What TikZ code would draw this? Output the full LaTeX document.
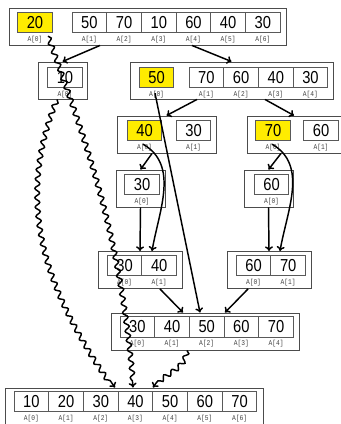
\documentclass[tikz,border=0pt]{standalone}
\usepackage{fontspec}
\setmainfont{Liberation Sans}
\newfontfamily\cellfont{Liberation Sans}[FakeStretch=0.85]
\newfontfamily\idxfont{Liberation Mono}[FakeStretch=0.85]
\usetikzlibrary{calc}
\usetikzlibrary{arrows.meta}
\usetikzlibrary{decorations.pathmorphing}
\definecolor{pivotyellow}{RGB}{255,236,0}

\begin{document}
\begin{tikzpicture}[x=0.75pt, y=0.75pt, thick]
		\tikzstyle{cell}=[draw=black!65, line width=0.6pt, minimum width=26pt, minimum height=15.4pt, inner sep=0pt, font=\cellfont\fontsize{13}{14}\selectfont]
		\tikzstyle{pivot}=[cell, fill=pivotyellow]
		\tikzstyle{part}=[draw=black!70, line width=0.7pt, minimum height=27.75pt, inner sep=0pt]
		\tikzstyle{idx}=[font=\idxfont\fontsize{5.5}{6}\selectfont, text=black!75, inner sep=0.5pt]
		\tikzstyle{arr}=[-{To[length=3.5pt, width=6pt]}, black, line width=1.1pt]
		\tikzstyle{snk}=[arr, decorate, decoration={snake, amplitude=1.8pt, segment length=7pt, post length=4pt}]
		\tikzset{every label/.style={idx}, label distance=1.2pt}

		\useasboundingbox (0,0) rectangle (340,-424);

    % Partition boxes
		\node[part, minimum width=207.75pt](box0) at (147.5,-26.5){};
		\node[part, minimum width=36.75pt](box1) at (62.5,-80.5){};
		\node[part, minimum width=152.25pt](box2) at (231.5,-80.5){};
		\node[part, minimum width=74.25pt](box3) at (166.5,-134.5){};
		\node[part, minimum width=75pt](box4) at (297,-134.5){};
		\node[part, minimum width=36.75pt](box5) at (140.5,-188.5){};
		\node[part, minimum width=36.75pt](box6) at (268.5,-188.5){};
		\node[part, minimum width=63pt](box7) at (140,-270){};
		\node[part, minimum width=63pt](box8) at (269,-270){};
		\node[part, minimum width=141pt](box9) at (205,-331.5){};
		\node[part, minimum width=193.5pt](box10) at (134,-406.5){};

    % Input array
		\node[pivot, label=below:{A[0]}](a0) at (35,-22.5){20};
		\node[cell, label=below:{A[1]}](a1) at (89.35,-22.5){50};
		\node[cell, label=below:{A[2]}](a2) at (124.05,-22.5){70};
		\node[cell, label=below:{A[3]}](a3) at (158.75,-22.5){10};
		\node[cell, label=below:{A[4]}](a4) at (193.45,-22.5){60};
		\node[cell, label=below:{A[5]}](a5) at (228.15,-22.5){40};
		\node[cell, label=below:{A[6]}](a6) at (262.85,-22.5){30};

    % 1st split
		\node[cell, label=below:{A[0]}](b0) at (65,-77.5){10};
		\node[pivot, label=below:{A[0]}](c0) at (156.5,-77.5){50};
		\node[cell, label=below:{A[1]}](c1) at (206.35,-77.5){70};
		\node[cell, label=below:{A[2]}](c2) at (241.05,-77.5){60};
		\node[cell, label=below:{A[3]}](c3) at (275.75,-77.5){40};
		\node[cell, label=below:{A[4]}](c4) at (310.45,-77.5){30};

    % 2nd split
		\node[pivot, label=below:{A[0]}](d0) at (144.5,-130.5){40};
		\node[cell, label=below:{A[1]}](d1) at (193.5,-130.5){30};
		\node[pivot, label=below:{A[0]}](e0) at (273,-130.5){70};
		\node[cell, label=below:{A[1]}](e1) at (321,-130.5){60};

    % Single cells
		\node[cell, label=below:{A[0]}](f0) at (142,-184.5){30};
		\node[cell, label=below:{A[0]}](g0) at (271.5,-184.5){60};

    % Merged pairs
		\node[cell, label=below:{A[0]}](h0) at (124.5,-265.5){30};
		\node[cell, label=below:{A[1]}](h1) at (159.2,-265.5){40};
		\node[cell, label=below:{A[0]}](k0) at (253.5,-265.5){60};
		\node[cell, label=below:{A[1]}](k1) at (288.2,-265.5){70};

    % Merged right part
		\node[cell, label=below:{A[0]}](m0) at (137.3,-327){30};
		\node[cell, label=below:{A[1]}](m1) at (172,-327){40};
		\node[cell, label=below:{A[2]}](m2) at (206.7,-327){50};
		\node[cell, label=below:{A[3]}](m3) at (241.4,-327){60};
		\node[cell, label=below:{A[4]}](m4) at (276.1,-327){70};

    % Sorted array
		\node[cell, label=below:{A[0]}](s0) at (31.35,-401.5){10};
		\node[cell, label=below:{A[1]}](s1) at (66.05,-401.5){20};
		\node[cell, label=below:{A[2]}](s2) at (100.75,-401.5){30};
		\node[cell, label=below:{A[3]}](s3) at (135.45,-401.5){40};
		\node[cell, label=below:{A[4]}](s4) at (170.15,-401.5){50};
		\node[cell, label=below:{A[5]}](s5) at (204.85,-401.5){60};
		\node[cell, label=below:{A[6]}](s6) at (239.55,-401.5){70};

		\draw[arr] ($(box0.south)+(-47.5,0)$) -- (box1.north);
		\draw[arr] ($(box0.south)+(44.5,0)$) -- (box2.north);
		\draw[arr] ($(box2.south)+(-34.5,0)$) -- (box3.north);
		\draw[arr] ($(box2.south)+(33.5,0)$) -- ($(box4.north)+(-3,0)$);
		\draw[arr] ($(box3.south)+(-14.5,0)$) -- (box5.north);
		\draw[arr] ($(box4.south)+(-16,0)$) -- (box6.north);
		\draw[arr] (box5.south) -- (box7.north);
		\draw[arr] (box6.south) -- (box8.north);
		\draw[arr] ($(box7.south)+(20,0)$) -- ($(box9.north)+(-22,0)$);
		\draw[arr] ($(box8.south)+(-21,0)$) -- ($(box9.north)+(20,0)$);

		\draw[arr] ($(c0.south)+(-1.5,-5)$) -- ($(box9.north)+(-5,0)$);
		\draw[arr] ($(d0.south)+(-1.5,-3)$) to[out=-30,in=80] ($(box7.north)+(12,0)$);
		\draw[arr] ($(e0.south)+(-1,-3)$) to[out=-30,in=80] ($(box8.north)+(11,0)$);

		\draw[snk] ($(a0.south)+(13,-3)$) to[out=-70,in=95] ($(box10.north)+(-1,0)$);
		\draw[snk] ($(box1.south)+(-5.5,0)$) to[out=-112,in=125] ($(box10.north)+(-19,0)$);
		\draw[snk] ($(box9.south)+(-18,0)$) to[out=-100,in=60] ($(box10.north)+(19,0)$);
  \end{tikzpicture}
\end{document}
